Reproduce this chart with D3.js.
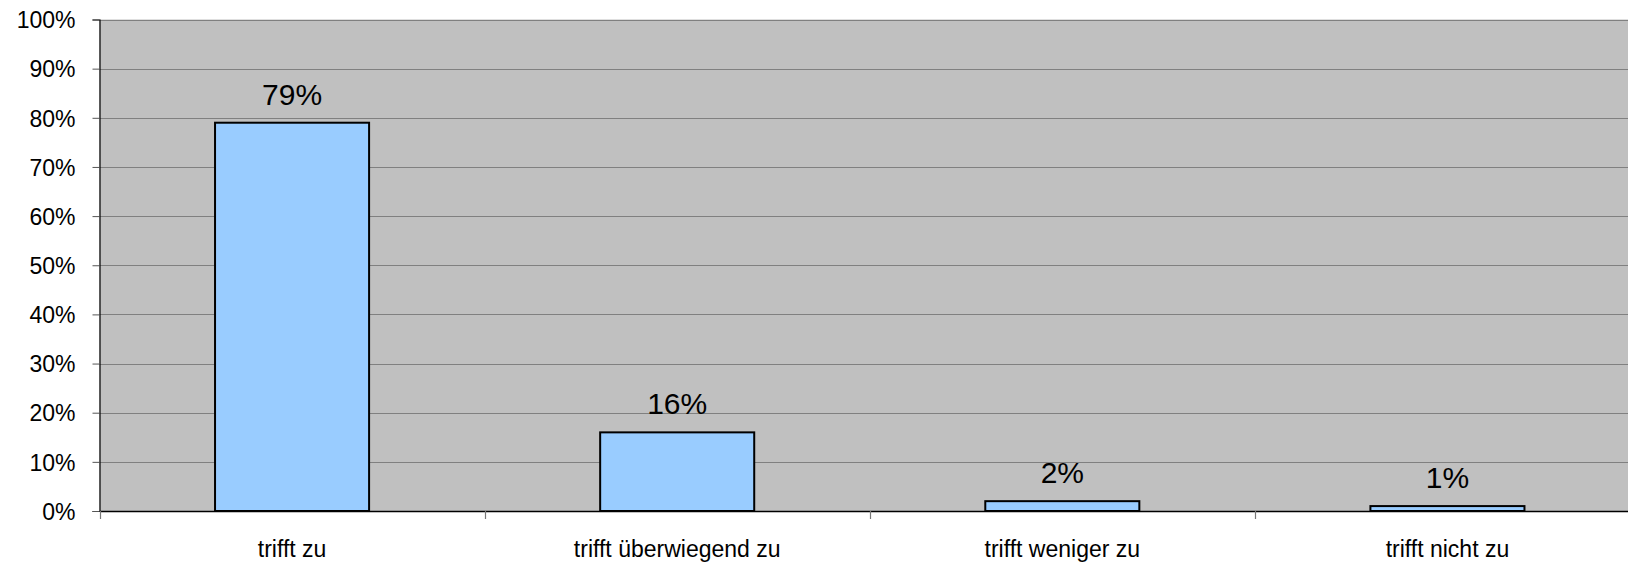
<!DOCTYPE html>
<html>
<head>
<meta charset="utf-8">
<script src="https://cdn.jsdelivr.net/npm/d3@7"></script>
<style>
  html, body { margin: 0; padding: 0; background: #fff; }
  svg { display: block; overflow: hidden; }
  text { font-family: "Liberation Sans", Arial, sans-serif; fill: #000; }
</style>
</head>
<body>
<svg id="chart" width="1628" height="563"></svg>
<script>
// Antworten und Anteile
const categories = ["trifft zu", "trifft überwiegend zu", "trifft weniger zu", "trifft nicht zu"];
const shares = [0.79, 0.16, 0.02, 0.01];
const yTicks = [0, 0.1, 0.2, 0.3, 0.4, 0.5, 0.6, 0.7, 0.8, 0.9, 1.0];

const svg = d3.select("#chart");
const plot = { left: 99.5, right: 1640, top: 19.5, bottom: 511 };

const x = d3.scaleBand().domain(categories).range([plot.left, plot.right]).padding(0);
const y = d3.scaleLinear().domain([0, 1]).range([plot.bottom, plot.top]);
const fmt = d3.format(".0%");
const barW = x.bandwidth() * 0.4;

// Zeichenfläche
svg.append("rect")
  .attr("x", plot.left).attr("y", plot.top)
  .attr("width", plot.right - plot.left).attr("height", plot.bottom - plot.top)
  .attr("fill", "#c0c0c0");

// Gitternetzlinien
svg.append("g").selectAll("line").data(yTicks.slice(1)).join("line")
  .attr("x1", plot.left).attr("x2", plot.right)
  .attr("y1", d => Math.round(y(d)) + 0.5).attr("y2", d => Math.round(y(d)) + 0.5)
  .attr("stroke", "#808080").attr("stroke-width", 1.2);

// Y-Achse
const yAxis = d3.axisLeft(y).tickValues(yTicks).tickFormat(fmt).tickSize(7).tickPadding(17);
const gy = svg.append("g").attr("transform", `translate(${plot.left},0)`).call(yAxis);
gy.select(".domain").attr("stroke", "#000").attr("stroke-width", 1.2);
gy.selectAll(".tick line").attr("stroke", "#555");
gy.selectAll(".tick text").attr("font-size", 23).attr("dy", "0.36em");

// Säulen
svg.append("g").selectAll("rect").data(shares).join("rect")
  .attr("x", (d, i) => x(categories[i]) + (x.bandwidth() - barW) / 2)
  .attr("y", d => y(d))
  .attr("width", barW)
  .attr("height", d => y(0) - y(d))
  .attr("fill", "#99ccff")
  .attr("stroke", "#000").attr("stroke-width", 2);

// Datenbeschriftungen
svg.append("g").selectAll("text").data(shares).join("text")
  .attr("x", (d, i) => x(categories[i]) + x.bandwidth() / 2)
  .attr("y", d => y(d) - 18)
  .attr("text-anchor", "middle")
  .attr("font-size", 30)
  .text(d => fmt(d));

// X-Achse
const xAxis = d3.axisBottom(x).tickSize(0).tickPadding(0).tickFormat(() => "");
const gx = svg.append("g").attr("transform", `translate(0,${plot.bottom})`).call(xAxis);
gx.select(".domain").attr("stroke", "#000").attr("stroke-width", 1.5);

// Trennstriche zwischen den Kategorien
const bounds = categories.map(c => x(c));
gx.append("g").selectAll("line").data(bounds).join("line")
  .attr("x1", d => Math.round(d) + 0.5).attr("x2", d => Math.round(d) + 0.5)
  .attr("y1", 0).attr("y2", 8)
  .attr("stroke", "#777").attr("stroke-width", 1.2);

// Kategorienbeschriftungen
svg.append("g").selectAll("text").data(categories).join("text")
  .attr("x", d => x(d) + x.bandwidth() / 2)
  .attr("y", 556.5)
  .attr("text-anchor", "middle")
  .attr("font-size", 23)
  .text(d => d);
</script>
</body>
</html>
